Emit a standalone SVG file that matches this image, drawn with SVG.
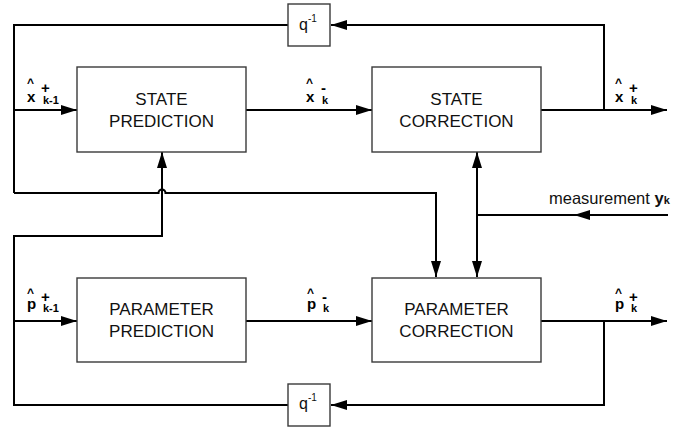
<svg xmlns="http://www.w3.org/2000/svg" width="694" height="428" viewBox="0 0 694 428">
  <defs>
    <marker id="arrow" viewBox="0 0 16 10" refX="16" refY="5" markerWidth="16" markerHeight="10" markerUnits="userSpaceOnUse" orient="auto-start-reverse">
      <path d="M0,0 L16,5 L0,10 Z" fill="#000"/>
    </marker>
    <style>
      .box { fill: #fff; stroke: #3a3a3a; stroke-width: 1.4; }
      .wire { fill: none; stroke: #000; stroke-width: 2; }
      .lbl { font-family: "Liberation Sans", Arial, sans-serif; font-size: 17px; fill: #111; text-anchor: middle; }
      .q { font-family: "Liberation Sans", Arial, sans-serif; font-size: 16px; fill: #111; }
      .v { font-family: "Liberation Sans", Arial, sans-serif; font-weight: bold; fill: #000; font-size: 15px; }
      .hat { font-size: 12px; }
      .sub { font-size: 11px; }
      .m { font-family: "Liberation Sans", Arial, sans-serif; font-size: 16.5px; fill: #111; }
    </style>
  </defs>

  <!-- signal wiring -->
  <g id="connectors">
    <!-- x+ feedback: output tap -> delay -> back to state input -->
    <path class="wire" d="M604,110 V25 H331" marker-end="url(#arrow)"/>
    <path class="wire" d="M288,25 H14 V193"/>
    <path class="wire" d="M14,110 H77" marker-end="url(#arrow)"/>
    <!-- state estimate branch to parameter correction, hopping over the parameter feed -->
    <path class="wire" d="M14,193 H158.5 A3.5,3.5 0 0 1 165.5,193 H436 V277" marker-end="url(#arrow)"/>
    <!-- x- prediction to correction -->
    <path class="wire" d="M246,110 H372" marker-end="url(#arrow)"/>
    <!-- x+ output -->
    <path class="wire" d="M541,110 H667" marker-end="url(#arrow)"/>

    <!-- parameter feedback -->
    <path class="wire" d="M604,321 V405 H331" marker-end="url(#arrow)"/>
    <path class="wire" d="M288,405 H14 V236 H162 V152" marker-end="url(#arrow)"/>
    <path class="wire" d="M14,321 H77" marker-end="url(#arrow)"/>
    <path class="wire" d="M246,321 H372" marker-end="url(#arrow)"/>
    <path class="wire" d="M541,321 H667" marker-end="url(#arrow)"/>

    <!-- measurement feeding both correction blocks -->
    <path class="wire" d="M477,152 V277" marker-start="url(#arrow)" marker-end="url(#arrow)"/>
    <path class="wire" d="M668,215 H574" marker-end="url(#arrow)"/>
    <path class="wire" d="M580,215 H477"/>
  </g>

  <g id="state-prediction">
    <rect class="box" x="77" y="67" width="169" height="85"/>
    <text class="lbl" x="161.5" y="105">STATE</text>
    <text class="lbl" x="161.5" y="127">PREDICTION</text>
  </g>

  <g id="state-correction">
    <rect class="box" x="372" y="67" width="169" height="85"/>
    <text class="lbl" x="456.5" y="105">STATE</text>
    <text class="lbl" x="456.5" y="127">CORRECTION</text>
  </g>

  <g id="parameter-prediction">
    <rect class="box" x="77" y="278" width="169" height="84"/>
    <text class="lbl" x="161.5" y="315">PARAMETER</text>
    <text class="lbl" x="161.5" y="337">PREDICTION</text>
  </g>

  <g id="parameter-correction">
    <rect class="box" x="372" y="278" width="169" height="84"/>
    <text class="lbl" x="456.5" y="315">PARAMETER</text>
    <text class="lbl" x="456.5" y="337">CORRECTION</text>
  </g>

  <g id="delay-state">
    <rect class="box" x="288" y="4" width="42" height="42"/>
    <text class="q" x="299" y="30">q<tspan x="308" y="22" font-size="10">-1</tspan></text>
  </g>

  <g id="delay-parameter">
    <rect class="box" x="288" y="384" width="42" height="42"/>
    <text class="q" x="299" y="409">q<tspan x="308" y="401" font-size="10">-1</tspan></text>
  </g>

  <!-- signal names: hat, symbol, superscript and subscript stacked -->
  <g id="labels">
    <text class="v"><tspan class="hat" x="27" y="87">^</tspan><tspan x="27" y="102">x</tspan><tspan x="41" y="93">+</tspan><tspan class="sub" x="43" y="104">k-1</tspan></text>
    <text class="v"><tspan class="hat" x="306" y="87">^</tspan><tspan x="306" y="102">x</tspan><tspan x="321" y="93">-</tspan><tspan class="sub" x="322" y="104">k</tspan></text>
    <text class="v"><tspan class="hat" x="615" y="87">^</tspan><tspan x="615" y="102">x</tspan><tspan x="629" y="93">+</tspan><tspan class="sub" x="631" y="104">k</tspan></text>

    <text class="v"><tspan class="hat" x="27" y="297">^</tspan><tspan x="27" y="309">p</tspan><tspan x="41" y="302">+</tspan><tspan class="sub" x="43" y="312">k-1</tspan></text>
    <text class="v"><tspan class="hat" x="307" y="297">^</tspan><tspan x="307" y="309">p</tspan><tspan x="322" y="302">-</tspan><tspan class="sub" x="323" y="312">k</tspan></text>
    <text class="v"><tspan class="hat" x="615" y="297">^</tspan><tspan x="615" y="309">p</tspan><tspan x="629" y="302">+</tspan><tspan class="sub" x="631" y="312">k</tspan></text>

    <text class="m" x="549" y="204">measurement <tspan font-weight="bold">y</tspan><tspan font-weight="bold" font-size="11">k</tspan></text>
  </g>
</svg>
